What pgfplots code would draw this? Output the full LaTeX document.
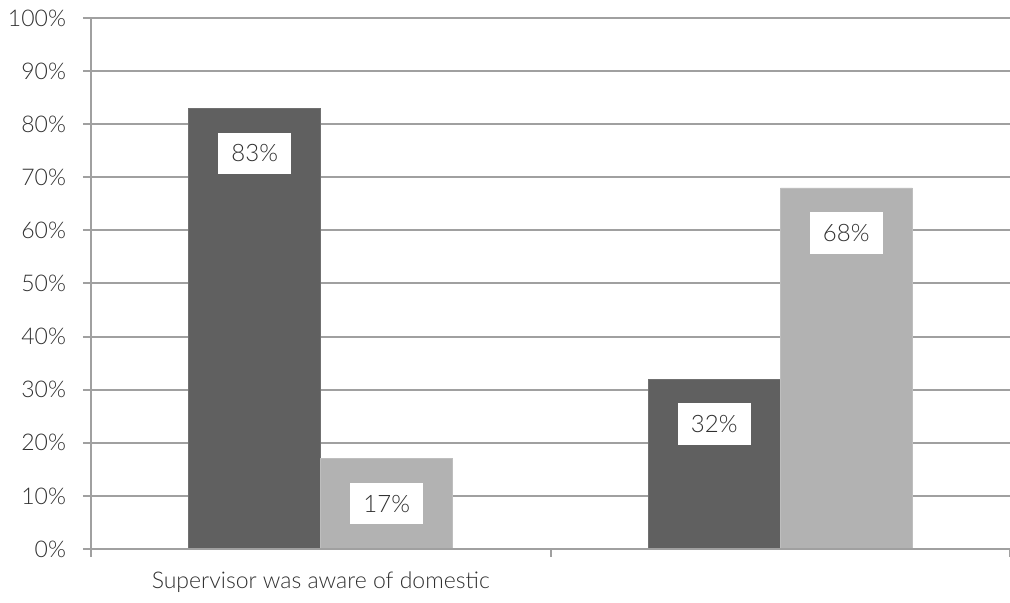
\documentclass[border=0pt]{standalone}
\usepackage{pgfplots}
\pgfplotsset{compat=1.18}
\usepackage{fontspec}
\setmainfont{Lato}[UprightFont=* Light]
\definecolor{darkbar}{HTML}{606060}
\definecolor{lightbar}{HTML}{B2B2B2}
\definecolor{gridgray}{HTML}{A0A0A0}
\definecolor{txt}{HTML}{303030}
\begin{document}
\begin{tikzpicture}
\begin{axis}[
  scale only axis,
  width=459.5pt, height=265.5pt,
  xmin=-0.5, xmax=1.5,
  ymin=0, ymax=100,
  ytick={0,10,...,100},
  yticklabel={\pgfmathprintnumber{\tick}\%},
  /pgf/number format/assume math mode=true,
  xtick={0,1},
  xticklabels={Supervisor was aware of domestic,{}},
  minor xtick={-0.5,0.5,1.5},
  major x tick style={draw=none},
  minor tick length=4pt,
  major tick length=4pt,
  tick align=outside,
  x axis line style={draw=none},
  axis line style={gridgray, line width=1pt},
  axis x line*=bottom,
  axis y line*=left,
  every tick/.style={gridgray, line width=1pt},
  ymajorgrids,
  grid style={gridgray, line width=1pt},
  tick label style={font=\fontsize{11.5}{13}\selectfont, text=txt},
  yticklabel style={xshift=-5pt},
  xticklabel style={yshift=-4pt},
  ybar=0pt,
  bar width=66pt,
  nodes near coords={\pgfmathprintnumber{\pgfplotspointmeta}\%},
  every node near coord/.append style={
    anchor=center, yshift=-22.5pt, fill=white, text=txt,
    font=\fontsize{12}{14}\selectfont,
    inner xsep=6.5pt, inner ysep=6pt},
  clip=false,
]
\addplot[fill=darkbar, draw=darkbar!90!white] coordinates {(0,83) (1,32)};
\addplot[fill=lightbar, draw=lightbar!85!white] coordinates {(0,17) (1,68)};
\draw[gridgray, line width=1pt] (axis cs:-0.5,0) -- (axis cs:1.5,0);
\end{axis}
\pgfresetboundingbox
\path[use as bounding box] (-45.5pt,-27pt) rectangle (459.5pt,274.5pt);
\end{tikzpicture}
\end{document}
